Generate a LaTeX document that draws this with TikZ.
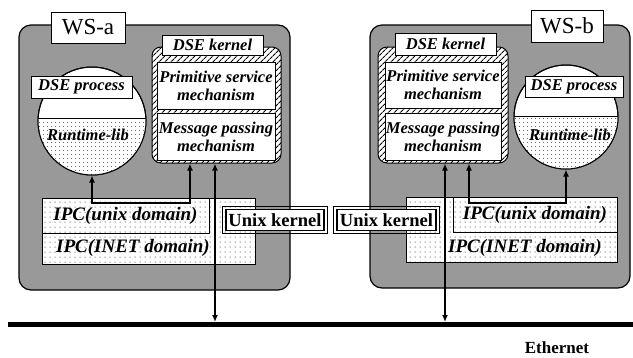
\documentclass[tikz,border=0pt]{standalone}
\usepackage{fontspec}
\setmainfont{Liberation Serif}
\usetikzlibrary{patterns,patterns.meta,arrows.meta,calc}
\tikzset{
  wsbox/.style={draw, line width=1.2pt, fill=black!40, rounded corners=12pt, inner sep=0pt},
  wslbl/.style={draw, line width=1pt, fill=white, inner sep=0pt, font=\fontsize{23}{24}\selectfont},
  bitext/.style={font=\fontsize{16.5}{18}\selectfont\bfseries\itshape},
  wbox/.style={draw, line width=1pt, fill=white, inner sep=0pt, align=center, bitext},
  kern/.style={draw, line width=1pt, rounded corners=9pt, inner sep=0pt,
    preaction={fill=white}, pattern={Lines[angle=45,distance=4pt,line width=1.1pt]}},
  dotted area/.style={draw, line width=1pt, inner sep=0pt, preaction={fill=white},
    pattern={Dots[distance=5pt,radius=0.5pt]}},
  ipctext/.style={font=\fontsize{19}{20}\selectfont\bfseries\itshape},
  ukern/.style={draw=black, line width=1.6pt, fill=white,
    inner sep=0pt, font=\fontsize{18.5}{20}\selectfont\bfseries},
  ukframe/.style={draw=black, line width=0.7pt},
  conn/.style={line width=1.8pt, {Latex[length=7pt,width=6pt]}-{Latex[length=7pt,width=6pt]}},
  proc/.style={circle, draw, line width=1pt, fill=white, minimum size=#1, inner sep=0pt},
}
\begin{document}
\begin{tikzpicture}[x=1pt,y=-1pt]
\useasboundingbox (0,0) rectangle (633,357);

% ---------------- WS-a ----------------
\node[wsbox, minimum width=271pt, minimum height=265pt] (wsa) at (154.5,157.5) {};
\node[wslbl, minimum width=74pt, minimum height=31pt] (wsal) at (88,27.5) {WS-a};

% kernel
\node[kern, minimum width=129pt, minimum height=116pt] (ka) at (216.5,105) {};
\node[wbox, minimum width=101pt, minimum height=20pt] (kal) at (212.5,45) {DSE kernel};
\node[wbox, minimum width=118pt, minimum height=47pt] (psa) at (216,85.5) {Primitive service\\mechanism};
\node[wbox, minimum width=118pt, minimum height=47pt] (mpa) at (216,136.5) {Message passing\\mechanism};

% process circle
\node[proc=108pt] (pa) at (92,121) {};
\begin{scope}
  \clip (92,121) circle (54pt);
  \fill[preaction={fill=white}, pattern={Dots[distance=4pt,radius=0.5pt]}] (30,118) rectangle (160,180);
  \draw[line width=1pt] (30,118) -- (160,118);
\end{scope}
\draw[line width=1pt] (92,121) circle (54pt);
\node[wbox, minimum width=101pt, minimum height=22pt] (pal) at (81.5,87) {DSE process};
\node[bitext] (rla) at (88,135) {Runtime-lib};

% IPC
\node[dotted area, minimum width=213pt, minimum height=66pt] (ipca) at (148.5,231) {};
\node[dotted area, minimum width=167pt, minimum height=35pt, ipctext] (uda) at (125.5,215.5) {IPC(unix domain)};
\node[ipctext] (ina) at (133,248) {IPC(INET domain)};

% connectors WS-a
\coordinate (ja) at (190,203);
\draw[conn] (pa.south) |- (ja) -- (ja |- ka.south);
\coordinate (ea) at (215,322);
\draw[conn] (ea |- ka.south) -- (ea);

% ---------------- WS-b ----------------
\node[wsbox, minimum width=260pt, minimum height=263pt] (wsb) at (500,156.5) {};
\node[wslbl, minimum width=72pt, minimum height=32pt] (wsbl) at (567,26) {WS-b};

\node[kern, minimum width=130pt, minimum height=116pt] (kb) at (443,105) {};
\node[wbox, minimum width=101pt, minimum height=22pt] (kbl) at (445.5,44) {DSE kernel};
\node[wbox, minimum width=116pt, minimum height=46pt] (psb) at (443,85) {Primitive service\\mechanism};
\node[wbox, minimum width=116pt, minimum height=47pt] (mpb) at (443,136.5) {Message passing\\mechanism};

\node[proc=104pt] (pb) at (566,117) {};
\begin{scope}
  \clip (566,117) circle (52pt);
  \fill[preaction={fill=white}, pattern={Dots[distance=4pt,radius=0.5pt]}] (505,116) rectangle (630,175);
  \draw[line width=1pt] (505,116) -- (630,116);
\end{scope}
\draw[line width=1pt] (566,117) circle (52pt);
\node[wbox, minimum width=98pt, minimum height=21pt] (pbl) at (574,86.5) {DSE process};
\node[bitext] (rlb) at (570,135) {Runtime-lib};

\node[dotted area, minimum width=211pt, minimum height=65pt] (ipcb) at (511.5,229.5) {};
\node[dotted area, minimum width=164pt, minimum height=35pt, ipctext] (udb) at (535,214.5) {IPC(unix domain)};
\node[ipctext] (inb) at (525,248) {IPC(INET domain)};

\coordinate (jb) at (469,203);
\draw[conn] (pb.south) |- (jb) -- (jb |- kb.south);
\coordinate (eb) at (445,322);
\draw[conn] (eb |- kb.south) -- (eb);

% ---------------- Unix kernels ----------------
\node[ukern, minimum width=98pt, minimum height=21pt] (uka) at (275,220) {Unix kernel};
\draw[ukframe] ($(uka.south west)+(-2.5pt,-2.5pt)$) rectangle ($(uka.north east)+(2.5pt,2.5pt)$);
\node[ukern, minimum width=99pt, minimum height=21pt] (ukb) at (386.5,220) {Unix kernel};
\draw[ukframe] ($(ukb.south west)+(-2.5pt,-2.5pt)$) rectangle ($(ukb.north east)+(2.5pt,2.5pt)$);

% ---------------- Ethernet ----------------
\node[fill=black, inner sep=0pt, minimum width=625pt, minimum height=5pt] (eth) at (320.5,324.5) {};
\node[inner sep=0pt, font=\fontsize{17}{18}\selectfont\bfseries] (ethl) at (557,348) {Ethernet};
\end{tikzpicture}
\end{document}
